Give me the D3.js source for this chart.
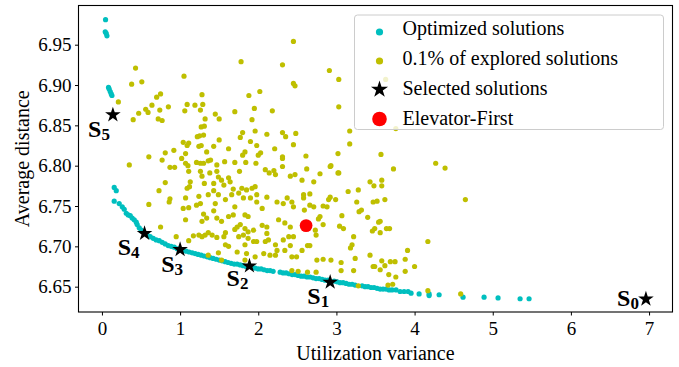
<!DOCTYPE html>
<html>
<head>
<meta charset="utf-8">
<script src="https://cdn.jsdelivr.net/npm/d3@7"></script>
<style>
  html, body { margin: 0; padding: 0; background: #fff; }
  svg { display: block; font-family: "Liberation Serif", "Times New Roman", serif; }
</style>
</head>
<body>
<svg id="chart" width="679" height="367"></svg>
<script>
// Optimized solutions (Pareto front): [utilization variance, average distance]
const optimizedSolutions = [
  [0.046, 6.981], [0.042, 6.966], [0.055, 6.964], [0.064, 6.961],
  [0.084, 6.897], [0.093, 6.895], [0.106, 6.892], [0.119, 6.889], [0.128, 6.887],
  [0.157, 6.773], [0.183, 6.769], [0.157, 6.756], [0.221, 6.753], [0.260, 6.749],
  [0.285, 6.746], [0.311, 6.741], [0.336, 6.739], [0.362, 6.738], [0.387, 6.735],
  [0.413, 6.733], [0.439, 6.730], [0.451, 6.727], [0.477, 6.723], [0.503, 6.720],
  [0.579, 6.714], [0.618, 6.712], [0.656, 6.710], [0.694, 6.708], [0.733, 6.707],
  [0.771, 6.705], [0.809, 6.703], [0.848, 6.701], [0.886, 6.700], [0.925, 6.699],
  [0.963, 6.697], [1.040, 6.695], [1.078, 6.694], [1.116, 6.693], [1.155, 6.692],
  [1.193, 6.691], [1.231, 6.690], [1.270, 6.689], [1.308, 6.688], [1.347, 6.687],
  [1.385, 6.686], [1.423, 6.685], [1.462, 6.684], [1.500, 6.683], [1.538, 6.682],
  [1.577, 6.681], [1.615, 6.680], [1.653, 6.679], [1.692, 6.678], [1.730, 6.678],
  [1.769, 6.677], [1.807, 6.676], [1.845, 6.675], [1.922, 6.674], [1.960, 6.673],
  [1.999, 6.672], [2.037, 6.672], [2.075, 6.671], [2.114, 6.670], [2.152, 6.670],
  [2.190, 6.669], [2.280, 6.668], [2.318, 6.667], [2.357, 6.667], [2.395, 6.666],
  [2.434, 6.665], [2.472, 6.665], [2.510, 6.664], [2.549, 6.663], [2.587, 6.663],
  [2.625, 6.662], [2.664, 6.662], [2.702, 6.661], [2.740, 6.660], [2.779, 6.660],
  [2.817, 6.659], [2.855, 6.658], [2.894, 6.658], [2.971, 6.657], [3.009, 6.656],
  [3.047, 6.655], [3.086, 6.655], [3.124, 6.654], [3.162, 6.653], [3.201, 6.653],
  [3.239, 6.652], [3.329, 6.651], [3.367, 6.650], [3.405, 6.650], [3.444, 6.649],
  [3.482, 6.649], [3.520, 6.648], [3.559, 6.647], [3.597, 6.647], [3.635, 6.647],
  [3.674, 6.646], [3.712, 6.646], [3.763, 6.646], [3.815, 6.644], [3.866, 6.644],
  [3.917, 6.644], [3.955, 6.642], [4.058, 6.641], [4.186, 6.641], [4.186, 6.639],
  [4.314, 6.640], [4.620, 6.637], [4.889, 6.637], [5.068, 6.636], [5.350, 6.635],
  [5.465, 6.635]
];

// 0.1% sample of explored solutions
const exploredSolutions = [
  [2.45, 6.954], [1.78, 6.929], [2.31, 6.925], [2.91, 6.918], [0.43, 6.921],
  [1.05, 6.911], [0.51, 6.904], [0.38, 6.901], [2.45, 6.902], [2.47, 6.899],
  [3.03, 6.907], [2.02, 6.892], [1.88, 6.887], [1.28, 6.888], [0.75, 6.889],
  [0.70, 6.885], [0.21, 6.879], [1.09, 6.876], [1.19, 6.875], [0.85, 6.873],
  [3.03, 6.873], [0.56, 6.870], [0.74, 6.869], [1.06, 6.868], [1.26, 6.869],
  [1.70, 6.867], [1.95, 6.871], [2.18, 6.868], [0.59, 6.866], [0.47, 6.865],
  [1.45, 6.864], [1.50, 6.858], [0.40, 6.857], [0.72, 6.858], [0.77, 6.856],
  [1.32, 6.858], [1.92, 6.857], [1.31, 6.849], [1.27, 6.848], [1.80, 6.841],
  [1.96, 6.843], [2.31, 6.841], [2.48, 6.840], [2.11, 6.839], [1.25, 6.837],
  [1.30, 6.838], [1.22, 6.836], [1.77, 6.835], [2.35, 6.836], [2.45, 6.826],
  [1.98, 6.825], [1.90, 6.830], [1.04, 6.829], [1.11, 6.828], [1.09, 6.825],
  [1.24, 6.824], [1.27, 6.825], [1.43, 6.824], [1.50, 6.832], [2.21, 6.821],
  [2.31, 6.811], [0.92, 6.819], [1.07, 6.815], [1.34, 6.817], [1.62, 6.821],
  [1.83, 6.817], [1.80, 6.813], [2.03, 6.816], [2.00, 6.813], [0.81, 6.816],
  [0.60, 6.811], [0.77, 6.807], [2.61, 6.812], [3.02, 6.815], [1.70, 6.804],
  [1.84, 6.804], [1.97, 6.803], [2.31, 6.809], [2.62, 6.796], [1.21, 6.804],
  [1.26, 6.803], [1.30, 6.803], [1.36, 6.806], [1.39, 6.807], [1.02, 6.809],
  [1.07, 6.803], [1.10, 6.800], [0.93, 6.798], [0.87, 6.798], [0.35, 6.801],
  [1.47, 6.801], [1.47, 6.793], [1.57, 6.805], [2.79, 6.790], [2.93, 6.800],
  [2.20, 6.794], [2.09, 6.795], [2.22, 6.789], [2.47, 6.789], [2.56, 6.782],
  [2.41, 6.787], [2.71, 6.780], [1.26, 6.793], [1.38, 6.791], [1.28, 6.787],
  [1.62, 6.785], [1.53, 6.782], [0.81, 6.779], [1.13, 6.780], [3.03, 6.791],
  [1.29, 6.876], [0.64, 6.875],
  [3.17, 6.843], [3.17, 6.827], [3.57, 6.814], [3.73, 6.796], [4.27, 6.803],
  [4.39, 6.797], [3.43, 6.780], [3.58, 6.782], [3.63, 6.907], [3.76, 6.846],
  [2.92, 6.799], [3.02, 6.791], [3.48, 6.775], [3.58, 6.775], [3.15, 6.768],
  [3.28, 6.770], [2.58, 6.764], [2.58, 6.760], [2.66, 6.765], [2.92, 6.761],
  [2.90, 6.758], [2.99, 6.758], [2.83, 6.750], [2.88, 6.749], [2.66, 6.751],
  [2.71, 6.749], [2.59, 6.745], [3.26, 6.755], [3.32, 6.745], [3.29, 6.743],
  [3.47, 6.755], [3.52, 6.756], [3.62, 6.758], [2.79, 6.737], [2.77, 6.734],
  [3.07, 6.738], [3.40, 6.736], [3.56, 6.731], [3.54, 6.730], [3.49, 6.722],
  [3.46, 6.719], [3.64, 6.722], [3.68, 6.722], [2.83, 6.727], [2.73, 6.720],
  [2.74, 6.714], [3.04, 6.725], [3.09, 6.722], [3.22, 6.712], [3.20, 6.702],
  [3.18, 6.698], [2.63, 6.701], [2.66, 6.701], [2.49, 6.687], [2.75, 6.683],
  [2.83, 6.684], [2.93, 6.683], [3.06, 6.680], [3.24, 6.685], [3.43, 6.689],
  [3.47, 6.675], [3.49, 6.675], [3.62, 6.676], [3.69, 6.681], [2.51, 6.669],
  [2.63, 6.668], [2.74, 6.668], [3.06, 6.670], [3.22, 6.670], [3.67, 6.665],
  [3.72, 6.653], [3.28, 6.651], [3.56, 6.717], [3.58, 6.682], [3.75, 6.681],
  [3.56, 6.671], [3.76, 6.662], [3.66, 6.652],
  [3.91, 6.695], [3.88, 6.684], [4.00, 6.675], [3.88, 6.669], [4.17, 6.706],
  [4.65, 6.758], [4.17, 6.645], [4.59, 6.641],
  [2.14, 6.791], [2.31, 6.799], [1.49, 6.786], [1.64, 6.780], [1.76, 6.793],
  [1.56, 6.776], [1.43, 6.778], [1.31, 6.778], [1.24, 6.762], [1.26, 6.753],
  [1.21, 6.751], [1.36, 6.764], [1.49, 6.764], [1.45, 6.753], [1.58, 6.758],
  [1.66, 6.764], [1.79, 6.772], [1.85, 6.770], [1.92, 6.772], [1.96, 6.774],
  [1.75, 6.766], [1.81, 6.760], [1.90, 6.760], [1.98, 6.764], [1.98, 6.755],
  [2.05, 6.747], [2.24, 6.755], [2.32, 6.753], [2.37, 6.760], [2.43, 6.755],
  [2.45, 6.749], [1.70, 6.749], [1.68, 6.739], [1.83, 6.739], [1.87, 6.737],
  [1.34, 6.735], [1.28, 6.731], [1.47, 6.735], [1.53, 6.731], [1.62, 6.737],
  [1.73, 6.724], [1.77, 6.727], [1.83, 6.722], [1.87, 6.718], [1.94, 6.720],
  [2.05, 6.726], [2.11, 6.724], [2.26, 6.733], [2.34, 6.729], [2.41, 6.724],
  [1.24, 6.714], [1.28, 6.712], [1.32, 6.714], [1.41, 6.714], [1.56, 6.712],
  [1.58, 6.702], [1.62, 6.700], [1.75, 6.712], [1.81, 6.714], [1.87, 6.710],
  [1.94, 6.706], [1.98, 6.706], [2.09, 6.706], [2.13, 6.708], [2.22, 6.702],
  [2.32, 6.708], [2.39, 6.712], [2.45, 6.712], [1.83, 6.702], [1.73, 6.693],
  [1.85, 6.691], [1.96, 6.687], [2.07, 6.691], [2.15, 6.689], [2.22, 6.689],
  [2.34, 6.695], [2.43, 6.687], [1.36, 6.689], [1.53, 6.683], [1.83, 6.683],
  [0.60, 6.752], [0.87, 6.759], [0.86, 6.755], [1.11, 6.748], [1.07, 6.760],
  [1.04, 6.747], [0.73, 6.769], [1.09, 6.772], [1.12, 6.774], [1.11, 6.793],
  [1.07, 6.733], [0.75, 6.724], [0.95, 6.712], [1.11, 6.707], [1.17, 6.713],
  [1.30, 6.740], [1.43, 6.744], [1.43, 6.769], [1.68, 6.771], [2.11, 6.761],
  [1.49, 6.692], [2.56, 6.695], [2.43, 6.670], [2.41, 6.701], [2.11, 6.716],
  [1.70, 6.721], [1.58, 6.717], [1.47, 6.711], [1.36, 6.717], [2.24, 6.695]
];

// Selected solutions
const selectedNames = ["S0", "S1", "S2", "S3", "S4", "S5"];
const selectedX = [6.96, 2.92, 1.887, 1.00, 0.545, 0.14];
const selectedY = [6.6347, 6.6555, 6.6757, 6.696, 6.716, 6.863];

// Elevator-First baseline
const elevatorFirst = { x: 2.612, y: 6.7257 };

const xTicks = [0, 1, 2, 3, 4, 5, 6, 7];
const yTicks = [6.65, 6.70, 6.75, 6.80, 6.85, 6.90, 6.95];

const legendLabels = ["Optimized solutions", "0.1% of explored solutions", "Selected solutions", "Elevator-First"];

// ---- layout ----
const W = 679, H = 367;
const margin = { left: 78.5, top: 5.5, right: 6.5, bottom: 55 };
const COLORS = { optimized: "#00bfbf", explored: "#bfbf00", selected: "#000", elevator: "#ff0000" };

// label placement: [dx from star to label end, dy to baseline]
const labelPlacement = {
  S0: [-7, 7], S1: [-1, 22], S2: [-1, 20], S3: [3, 22], S4: [-5, 22], S5: [-3, 22]
};

const svg = d3.select("#chart");

const x = d3.scaleLinear().domain([-0.3, 7.3]).range([margin.left, W - margin.right]);
const y = d3.scaleLinear().domain([6.6186, 6.9986]).range([H - margin.bottom, margin.top]);

const starSymbol = (R) => d3.symbol(d3.symbolStar, (R * R) / 0.8908130915292852)();

// points
const plot = svg.append("g");

plot.append("g").selectAll("circle")
  .data(optimizedSolutions).join("circle")
  .attr("cx", d => x(d[0])).attr("cy", d => y(d[1]))
  .attr("r", 2.6).attr("fill", COLORS.optimized);

plot.append("g").selectAll("circle")
  .data(exploredSolutions).join("circle")
  .attr("cx", d => x(d[0])).attr("cy", d => y(d[1]))
  .attr("r", 2.6).attr("fill", COLORS.explored);

const selected = selectedNames.map((n, i) => ({ name: n, x: selectedX[i], y: selectedY[i] }));

plot.append("g").selectAll("path")
  .data(selected).join("path")
  .attr("d", starSymbol(8.2))
  .attr("transform", d => `translate(${x(d.x)},${y(d.y)})`)
  .attr("fill", COLORS.selected);

plot.append("circle")
  .attr("cx", x(elevatorFirst.x)).attr("cy", y(elevatorFirst.y))
  .attr("r", 6.4).attr("fill", COLORS.elevator);

// S labels with subscripts
const labels = plot.append("g").selectAll("text")
  .data(selected).join("text")
  .attr("x", d => x(d.x) + labelPlacement[d.name][0])
  .attr("y", d => y(d.y) + labelPlacement[d.name][1])
  .attr("text-anchor", "end")
  .attr("font-weight", "bold")
  .attr("font-size", 24)
  .attr("fill", "#000");
labels.append("tspan").text(d => d.name[0]);
labels.append("tspan").attr("font-size", 17).attr("dy", 3).text(d => d.name.slice(1));

// axes
const xAxis = svg.append("g")
  .attr("transform", `translate(0,${H - margin.bottom})`)
  .call(d3.axisBottom(x).tickValues(xTicks).tickFormat(d3.format("d")).tickSizeOuter(0).tickSize(3.5).tickPadding(5));
const yAxis = svg.append("g")
  .attr("transform", `translate(${margin.left},0)`)
  .call(d3.axisLeft(y).tickValues(yTicks).tickFormat(d3.format(".2f")).tickSizeOuter(0).tickSize(3.5).tickPadding(3.5));

[xAxis, yAxis].forEach(a => {
  a.select(".domain").remove();
  a.selectAll(".tick line").attr("stroke", "#000").attr("stroke-width", 1);
  a.selectAll(".tick text").attr("fill", "#000")
    .style("font-family", "'Liberation Serif', serif").style("font-size", "19px");
});
xAxis.selectAll(".tick text").attr("dy", "0.78em");

// frame
svg.append("rect")
  .attr("x", margin.left).attr("y", margin.top)
  .attr("width", W - margin.left - margin.right)
  .attr("height", H - margin.top - margin.bottom)
  .attr("fill", "none").attr("stroke", "#000").attr("stroke-width", 1.1);

// axis titles
svg.append("text")
  .attr("x", (margin.left + W - margin.right) / 2).attr("y", 360)
  .attr("text-anchor", "middle").attr("font-size", 20).attr("fill", "#000")
  .text("Utilization variance");
svg.append("text")
  .attr("transform", `translate(29,${(margin.top + H - margin.bottom) / 2}) rotate(-90)`)
  .attr("text-anchor", "middle").attr("font-size", 20).attr("fill", "#000")
  .text("Average distance");

// legend
const legend = svg.append("g");
legend.append("rect")
  .attr("x", 354.5).attr("y", 15).attr("width", 309).attr("height", 114.5)
  .attr("rx", 3).attr("fill", "#fff").attr("fill-opacity", 0.8)
  .attr("stroke", "#ccc").attr("stroke-width", 1);

const legendRows = [
  { label: legendLabels[0], kind: "dot", color: COLORS.optimized },
  { label: legendLabels[1], kind: "dot", color: COLORS.explored },
  { label: legendLabels[2], kind: "star", color: COLORS.selected },
  { label: legendLabels[3], kind: "big", color: COLORS.elevator }
];
const markerY = [32, 61, 89.5, 119];
const rowBaseline = [35, 65, 95, 125];
legendRows.forEach((r, i) => {
  const my = markerY[i];
  if (r.kind === "dot") {
    legend.append("circle").attr("cx", 379.5).attr("cy", my).attr("r", 3.6).attr("fill", r.color);
  } else if (r.kind === "star") {
    legend.append("path").attr("d", starSymbol(9)).attr("transform", `translate(379.5,${my})`).attr("fill", r.color);
  } else {
    legend.append("circle").attr("cx", 379.5).attr("cy", my).attr("r", 7.3).attr("fill", r.color);
  }
  legend.append("text").attr("x", 402.5).attr("y", rowBaseline[i])
    .attr("font-size", 20).attr("fill", "#000").text(r.label);
});
</script>
</body>
</html>
